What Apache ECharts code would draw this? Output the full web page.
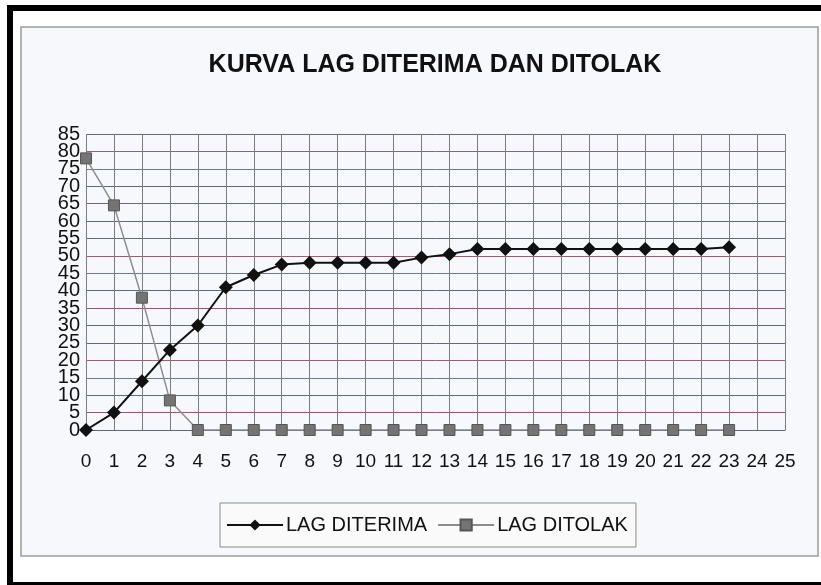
<!DOCTYPE html>
<html>
<head>
<meta charset="utf-8">
<script src="https://cdn.jsdelivr.net/npm/echarts@6/dist/echarts.min.js"></script>
<style>
html,body{margin:0;padding:0;background:#fff;}
#c{width:821px;height:585px;}
</style>
</head>
<body>
<div id="c"></div>
<script>
var titleText = 'KURVA LAG DITERIMA DAN DITOLAK';
var lagX = [0,1,2,3,4,5,6,7,8,9,10,11,12,13,14,15,16,17,18,19,20,21,22,23];
var lagDiterima = [0,5,14,23,30,41,44.5,47.5,48,48,48,48,49.5,50.5,52,52,52,52,52,52,52,52,52,52.5];
var lagDitolak = [78,64.5,38,8.5,0,0,0,0,0,0,0,0,0,0,0,0,0,0,0,0,0,0,0,0];
var seriesNames = ['LAG DITERIMA','LAG DITOLAK'];
var yMin = 0, yMax = 85, yStep = 5;

function pairs(xs, ys){ return xs.map(function(x,i){ return [x, ys[i]]; }); }

var yLabelStyle = {fontFamily:'Liberation Sans, Arial, sans-serif', fontSize:20, color:'#111', margin:6};

var chart = echarts.init(document.getElementById('c'));
chart.setOption({
  animation:false,
  backgroundColor:'#ffffff',
  graphic:[
    {type:'rect', z:-10, silent:true, shape:{x:21,y:27,width:797,height:529}, style:{fill:'#f6f8fc', stroke:'#9a9a9a', lineWidth:1.5}},
    {type:'rect', silent:true, shape:{x:7,y:5,width:6,height:580}, style:{fill:'#000'}},
    {type:'rect', silent:true, shape:{x:7,y:5,width:814,height:6}, style:{fill:'#000'}},
    {type:'rect', silent:true, shape:{x:7,y:582,width:814,height:3}, style:{fill:'#000'}}
  ],
  title:{
    text:titleText, left:430, top:48, textAlign:'center',
    textStyle:{fontFamily:'Liberation Sans, Arial, sans-serif', fontWeight:'bold', fontSize:25, color:'#111'}
  },
  legend:{
    data:seriesNames, left:220, top:503,
    orient:'horizontal',
    padding:[12,8,12,6], itemGap:10, itemWidth:56, itemHeight:14,
    borderColor:'#8a8a8a', borderWidth:1, backgroundColor:'#fafafa',
    textStyle:{fontFamily:'Liberation Sans, Arial, sans-serif', fontSize:20, color:'#111', padding:[0,0,0,-2]}
  },
  grid:{left:86, right:36, top:134, bottom:155, containLabel:false},
  xAxis:{
    type:'value', min:0, max:25, interval:1,
    axisLine:{show:true, lineStyle:{color:'#5a6a7a', width:1}},
    axisTick:{show:false},
    axisLabel:{fontFamily:'Liberation Sans, Arial, sans-serif', fontSize:19, color:'#111', margin:22},
    splitLine:{show:true, lineStyle:{color:'#7c7c80', width:1}}
  },
  yAxis:[
    {
      type:'value', min:yMin, max:yMax, interval:yStep, position:'left',
      axisLine:{show:false},
      axisTick:{show:false},
      axisLabel:Object.assign({showMinLabel:false, showMaxLabel:false}, yLabelStyle),
      splitLine:{show:true, lineStyle:{color:['#5d6d80','#8a5e70','#5d6d80','#6d7a8a','#9a6070','#5d6d80'], width:1}}
    },
    {
      type:'value', min:yMin, max:yMax, interval:yMax - yMin, position:'left', offset:0,
      axisLine:{show:false},
      axisTick:{show:false},
      axisLabel:yLabelStyle,
      splitLine:{show:false}
    }
  ],
  series:[
    {
      name:seriesNames[0], type:'line', data:pairs(lagX, lagDiterima),
      symbol:'diamond', symbolSize:14, z:3,
      lineStyle:{color:'#111', width:2},
      itemStyle:{color:'#111'}
    },
    {
      name:seriesNames[1], type:'line', data:pairs(lagX, lagDitolak),
      symbol:'rect', symbolSize:11, z:2,
      lineStyle:{color:'#8d8d8d', width:1.5},
      itemStyle:{color:'#747474', borderColor:'#555', borderWidth:1}
    }
  ]
});
</script>
</body>
</html>
